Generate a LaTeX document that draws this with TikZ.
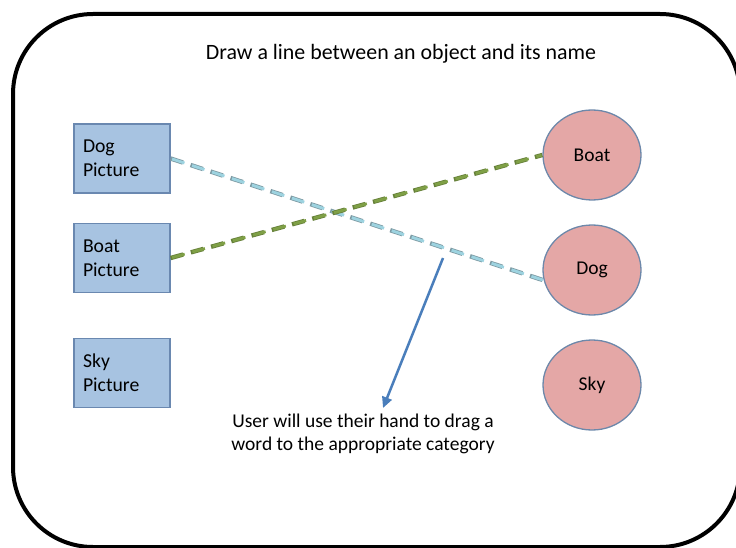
\documentclass[tikz,border=0pt]{standalone}
\usepackage{fontspec}
\setmainfont{Carlito}
\usetikzlibrary{shapes.geometric,arrows.meta}
\definecolor{boxfill}{HTML}{A7C3E1}
\definecolor{boxedge}{HTML}{6A88B0}
\definecolor{discfill}{HTML}{E4A7A6}
\definecolor{discedge}{HTML}{6D88AA}
\definecolor{cyanline}{HTML}{9DD3E0}
\definecolor{cyanedge}{HTML}{7E9BA4}
\definecolor{greenline}{HTML}{7FA046}
\definecolor{greenedge}{HTML}{66803A}
\definecolor{arrowblue}{HTML}{4A7EBB}
\tikzset{
  picbox/.style={draw=boxedge, line width=1.2pt, fill=boxfill, minimum height=69pt,
    text width=78pt, inner xsep=9pt, inner ysep=0pt, align=left,
    font=\fontsize{19.7}{24}\selectfont},
  worddisc/.style={ellipse, draw=discedge, line width=1.3pt, fill=discfill,
    minimum width=98pt, minimum height=90pt, inner sep=0pt,
    font=\fontsize{19.5}{24}\selectfont},
  % dashed matching lines: a slightly wider rim pass under the coloured pass
  linkrim/.style={line width=4.4pt, dash pattern=on 13pt off 8pt},
  linkcore/.style={line width=2.8pt, dash pattern=on 13pt off 8pt,
    shorten <=0.8pt, shorten >=0.8pt},
  caption/.style={align=center, inner sep=0pt}
}
\begin{document}
\begin{tikzpicture}[x=1pt, y=-1pt]
  \useasboundingbox (0,0) rectangle (736,548);
  % outer frame
  \draw[line width=4pt, rounded corners=80pt] (13,14) rectangle (740,547);
  % heading
  \node[caption, anchor=base, font=\fontsize{21.9}{26}\selectfont] (title) at (401,60)
    {Draw a line between an object and its name};
  % picture boxes
  \node[picbox] (dogpic) at (122,158.5) {Dog\\Picture};
  \node[picbox] (boatpic) at (122,258) {Boat\\Picture};
  \node[picbox] (skypic) at (122,373) {Sky\\Picture};
  % word discs
  \node[worddisc] (boat) at (592,155) {Boat};
  \node[worddisc] (dog) at (592,270) {Dog};
  \node[worddisc] (sky) at (592,385) {Sky};
  % matching lines
  \draw[linkrim, cyanedge] (dogpic.east) -- (dog.192);
  \draw[linkcore, cyanline, dash phase=-0.8pt] (dogpic.east) -- (dog.192);
  \draw[linkrim, greenedge] (boatpic.east) -- (boat.west);
  \draw[linkcore, greenline, dash phase=-0.8pt] (boatpic.east) -- (boat.west);
  % instruction and pointer
  \node[caption, anchor=base, font=\fontsize{19.5}{23}\selectfont] (note) at (363,450)
    {User will use their hand to drag a\\word to the appropriate category};
  \coordinate (tail) at (443,258);
  \coordinate (head) at (383,408);
  \draw[arrowblue, line width=2.5pt, -{Triangle[length=11pt, width=10pt]}] (tail) -- (head);
\end{tikzpicture}
\end{document}
